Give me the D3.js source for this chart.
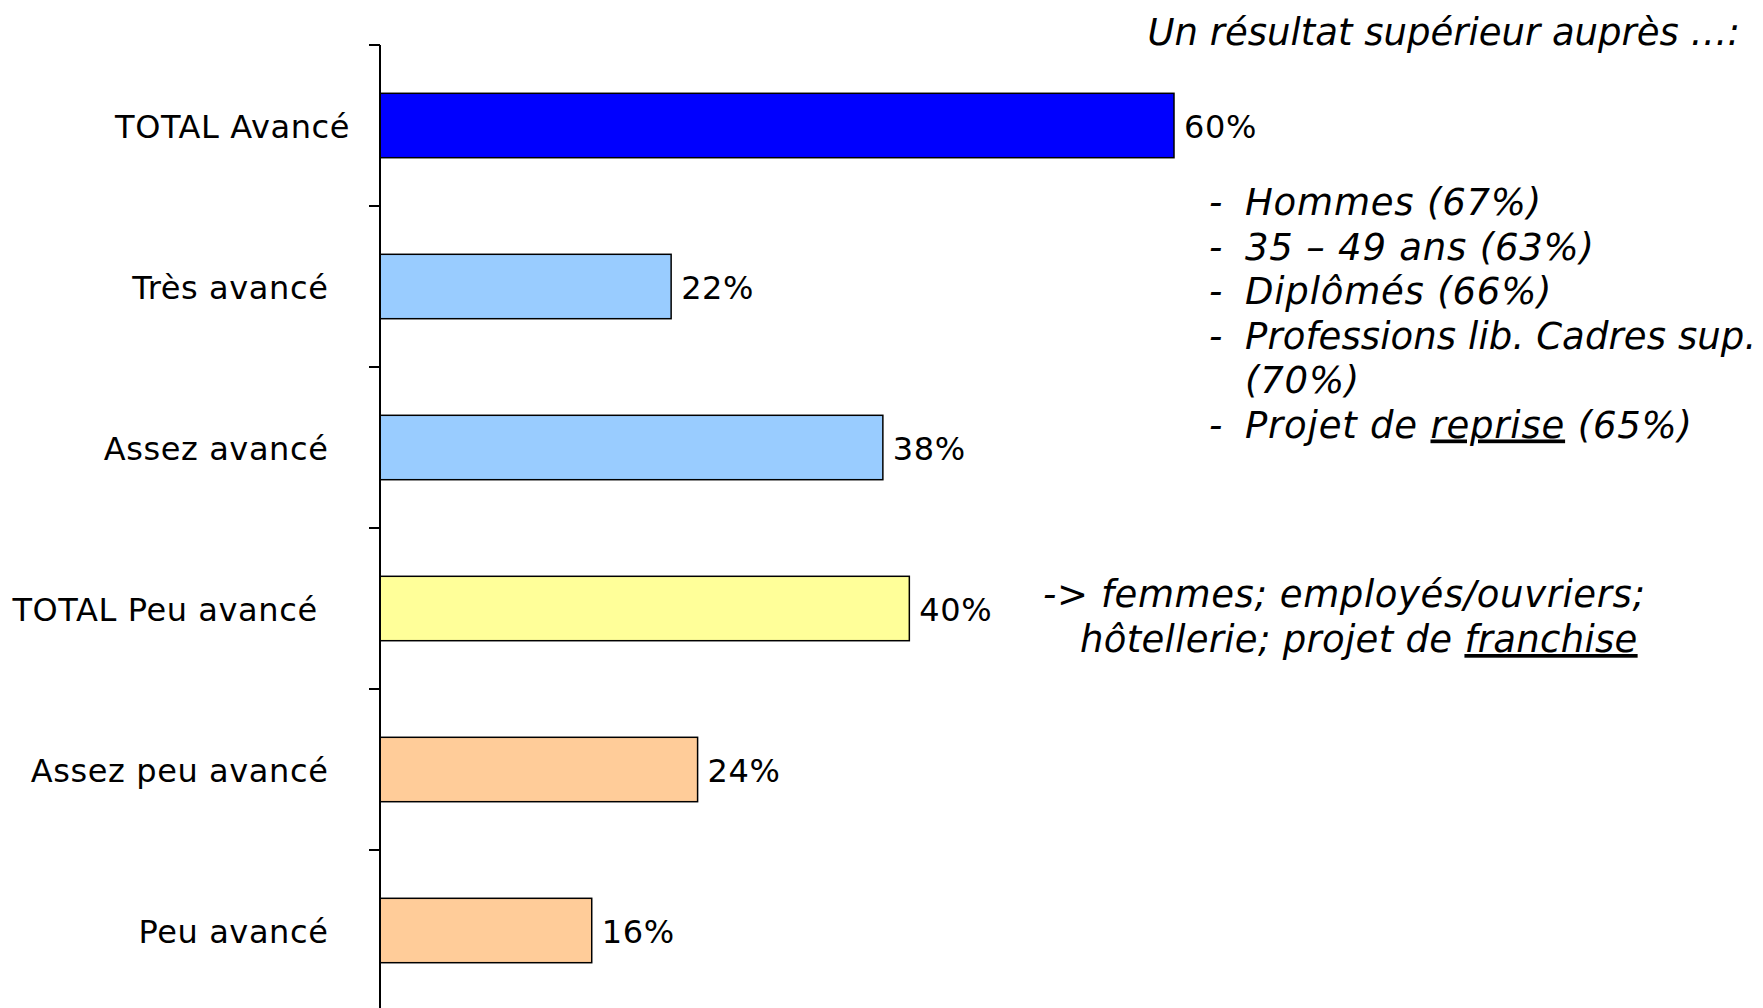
<!DOCTYPE html>
<html lang="fr">
<head>
<meta charset="utf-8">
<title>Avancement du projet</title>
<script src="https://cdn.jsdelivr.net/npm/d3@7"></script>
<style>
  html, body { margin: 0; padding: 0; background: #fff; }
  svg { display: block; font-family: "DejaVu Sans", Verdana, sans-serif; }
  .note { font-style: italic; font-size: 37px; fill: #000; }
  .spaced { letter-spacing: 0.6px; }
  .u { text-decoration: underline; }
</style>
</head>
<body>
<svg id="chart" width="1763" height="1008"></svg>
<script>
// categories (trailing non-breaking spaces as in the original labels)
const categories = [
  "TOTAL Avancé",
  "Très avancé\u00a0\u00a0",
  "Assez avancé\u00a0\u00a0",
  "TOTAL Peu avancé\u00a0\u00a0\u00a0",
  "Assez peu avancé\u00a0\u00a0",
  "Peu avancé\u00a0\u00a0"
];
const values = [60, 22, 38, 40, 24, 16];
const barColors = ["#0000ff", "#99ccff", "#99ccff", "#ffff99", "#ffcc99", "#ffcc99"];

const title = "Un résultat supérieur auprès …:";
// _word_ marks an underlined word
const bullets = [
  { dash: true, text: "Hommes (67%)" },
  { dash: true, text: "35 – 49 ans (63%)" },
  { dash: true, text: "Diplômés (66%)" },
  { dash: true, text: "Professions lib. Cadres sup." },
  { dash: false, text: "(70%)" },
  { dash: true, text: "Projet de _reprise_ (65%)" }
];
const noteLines = [
  "-> femmes; employés/ouvriers;",
  "hôtellerie; projet de _franchise_"
];

const svg = d3.select("#chart");

const axisX = 380;
const x = d3.scaleLinear().domain([0, 60]).range([axisX, 1174]);
const y = d3.scaleBand()
  .domain(categories)
  .range([45, 1011])
  .paddingInner(0.6)
  .paddingOuter(0.3);

// bars
svg.append("g")
  .selectAll("rect")
  .data(values)
  .join("rect")
  .attr("x", x(0))
  .attr("y", (d, i) => y(categories[i]))
  .attr("width", d => x(d) - x(0))
  .attr("height", y.bandwidth())
  .attr("fill", (d, i) => barColors[i])
  .attr("stroke", "#000")
  .attr("stroke-width", 1.5);

// value labels
svg.append("g")
  .selectAll("text")
  .data(values)
  .join("text")
  .attr("x", d => x(d) + 10)
  .attr("y", (d, i) => y(categories[i]) + y.bandwidth() / 2 + 12.5)
  .attr("font-size", 32)
  .attr("class", "spaced")
  .text(d => d + "%");

// category labels through a left axis
const yAxis = svg.append("g")
  .attr("transform", `translate(${axisX},0)`)
  .call(d3.axisLeft(y).tickSize(0).tickPadding(30));
yAxis.select(".domain").remove();
yAxis.selectAll("text")
  .attr("font-size", 32)
  .attr("font-family", "DejaVu Sans, Verdana, sans-serif")
  .attr("fill", "#000")
  .attr("dy", "0.39em")
  .attr("class", "spaced")
  .style("white-space", "pre");

// axis line and ticks between categories
const [y0, y1] = y.range();
svg.append("line")
  .attr("x1", axisX).attr("x2", axisX)
  .attr("y1", y0).attr("y2", y1)
  .attr("stroke", "#000").attr("stroke-width", 2);
svg.append("g")
  .selectAll("line")
  .data(d3.range(categories.length + 1))
  .join("line")
  .attr("x1", axisX - 11).attr("x2", axisX)
  .attr("y1", i => y0 + i * y.step())
  .attr("y2", i => y0 + i * y.step())
  .attr("stroke", "#000").attr("stroke-width", 2);

// fill a text node, underlining the _marked_ parts
function richText(sel, str) {
  str.split("_").forEach((part, i) => {
    if (!part) return;
    sel.append("tspan").attr("class", i % 2 ? "u" : null).text(part);
  });
}

svg.append("text")
  .attr("class", "note")
  .attr("x", 1740).attr("y", 45)
  .attr("text-anchor", "end")
  .text(title);

const list = svg.append("g");
const listX = 1245, listMaxX = 1756;
bullets.forEach((b, i) => {
  const by = 215 + i * 44.5;
  if (b.dash) {
    list.append("text").attr("class", "note").attr("x", 1209).attr("y", by).text("-");
  }
  const t = list.append("text").attr("class", "note").attr("x", listX).attr("y", by)
    .style("letter-spacing", "0.8px")
    .call(richText, b.text);
  // the long line must stay inside the picture
  if (listX + t.node().getComputedTextLength() > listMaxX) {
    t.style("letter-spacing", "0.1px");
  }
});

noteLines.forEach((line, i) => {
  svg.append("text")
    .attr("class", "note")
    .attr("x", i === 0 ? 1043 : 1080)
    .attr("y", 607 + i * 45)
    .style("white-space", "pre")
    .style("letter-spacing", i === 0 ? "0.6px" : "0.3px")
    .call(richText, line);
});
</script>
</body>
</html>
